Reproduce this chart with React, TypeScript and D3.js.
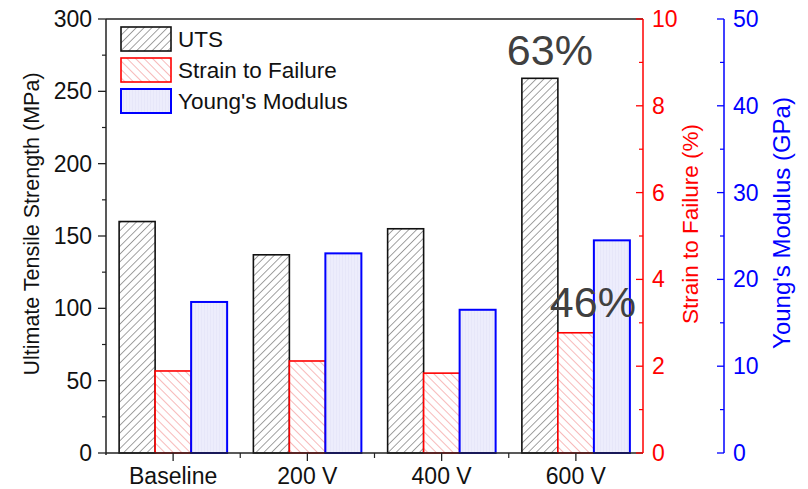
import React from "react";
import * as d3 from "d3";

const categories = ["Baseline", "200 V", "400 V", "600 V"];
const utsValues = [160, 137, 155, 259];
const strainValues = [1.89, 2.12, 1.84, 2.77];
const modulusValues = [17.4, 23.0, 16.5, 24.5];
const utsTicks = [0, 50, 100, 150, 200, 250, 300];
const strainTicks = [0, 2, 4, 6, 8, 10];
const modulusTicks = [0, 10, 20, 30, 40, 50];
const annotationTexts = ["63%", "46%"];
const annotationCategories = ["600 V", "600 V"];
const annotationValues = [268, 94];
const legendItems = ["UTS", "Strain to Failure", "Young's Modulus"];

const W = 808;
const H = 489;
const left = 106;
const right = 643;
const top = 19;
const bottom = 453;
const font = "Arial, 'Liberation Sans', sans-serif";
const annDx = [-26, 17];

export default function App() {
  const x = d3.scaleBand<string>().domain(categories).range([left, right]).paddingInner(0).paddingOuter(0);
  const yU = d3.scaleLinear().domain([0, 300]).range([bottom, top]);
  const yS = d3.scaleLinear().domain([0, 10]).range([bottom, top]);
  const yM = d3.scaleLinear().domain([0, 50]).range([bottom, top]);
  const barW = 36;
  const blueX = 724;

  const fills = ["url(#hatchUTS)", "url(#hatchStrain)", "url(#hatchMod)"];
  const strokes = ["#111", "#ff0000", "#0000ff"];

  const bars: any[] = [];
  categories.forEach((c, i) => {
    const cx = x(c)! + x.bandwidth() / 2;
    const vals = [yU(utsValues[i]), yS(strainValues[i]), yM(modulusValues[i])];
    vals.forEach((yy, k) => {
      const bx = cx - 1.5 * barW + k * barW;
      bars.push(
        <rect key={c + k} x={bx} y={yy} width={barW} height={bottom - yy}
          fill={fills[k]} stroke={strokes[k]} strokeWidth={k === 2 ? 2 : 1.6} />
      );
    });
  });

  const minorU = d3.range(25, 300, 50);
  const minorS = d3.range(1, 10, 2);
  const minorM = d3.range(5, 50, 10);

  return (
    <svg width={W} height={H} style={{ position: "absolute", left: 0, top: 0, background: "#fff" }} fontFamily={font}>
      <defs>
        <pattern id="hatchUTS" patternUnits="userSpaceOnUse" width="5.5" height="5.5" patternTransform="rotate(45)">
          <rect width="5.5" height="5.5" fill="#fff" />
          <line x1="0" y1="0" x2="0" y2="5.5" stroke="#444" strokeWidth="1" />
        </pattern>
        <pattern id="hatchStrain" patternUnits="userSpaceOnUse" width="6" height="6" patternTransform="rotate(-45)">
          <rect width="6" height="6" fill="#fff" />
          <line x1="0" y1="0" x2="0" y2="6" stroke="#f07575" strokeWidth="1" />
        </pattern>
        <pattern id="hatchMod" patternUnits="userSpaceOnUse" width="3" height="3">
          <rect width="3" height="3" fill="#ededfc" />
          <line x1="0" y1="0" x2="0" y2="3" stroke="#e0e0f6" strokeWidth="0.8" />
        </pattern>
      </defs>

      {bars}

      {/* frame top */}
      <line x1={left} x2={right} y1={top} y2={top} stroke="#222" strokeWidth={1.5} />
      {/* left axis */}
      <line x1={left} x2={left} y1={top} y2={bottom + 2} stroke="#222" strokeWidth={1.5} />
      {utsTicks.map((t) => (
        <g key={"u" + t}>
          <line x1={left - 8} x2={left} y1={yU(t)} y2={yU(t)} stroke="#222" strokeWidth={1.3} />
          <text x={92} y={yU(t)} dy="0.35em" textAnchor="end" fontSize={23} fill="#111">{t}</text>
        </g>
      ))}
      {minorU.map((t) => (
        <line key={"um" + t} x1={left - 4} x2={left} y1={yU(t)} y2={yU(t)} stroke="#222" strokeWidth={1.2} />
      ))}
      <text transform={`translate(31,${(top + bottom) / 2 - 12}) rotate(-90)`} textAnchor="middle" dy="0.35em" fontSize={21.5} fill="#111">
        Ultimate Tensile Strength (MPa)
      </text>

      {/* bottom axis */}
      <line x1={left} x2={right} y1={bottom} y2={bottom} stroke="#222" strokeWidth={1.5} />
      {categories.map((c) => {
        const cx = x(c)! + x.bandwidth() / 2;
        return (
          <g key={"c" + c}>
            <line x1={cx} x2={cx} y1={bottom} y2={bottom + 8} stroke="#222" strokeWidth={1.3} />
            <text x={cx} y={484} textAnchor="middle" fontSize={23} fill="#111">{c}</text>
          </g>
        );
      })}
      {categories.slice(1).map((c) => (
        <line key={"cm" + c} x1={x(c)!} x2={x(c)!} y1={bottom} y2={bottom + 5} stroke="#222" strokeWidth={1.2} />
      ))}

      {/* red axis */}
      <line x1={right} x2={right} y1={top} y2={bottom} stroke="#ff0000" strokeWidth={1.5} />
      {strainTicks.map((t) => (
        <g key={"s" + t}>
          <line x1={right - 7} x2={right} y1={yS(t)} y2={yS(t)} stroke="#ff0000" strokeWidth={1.3} />
          <text x={652} y={yS(t)} dy="0.35em" textAnchor="start" fontSize={23} fill="#ff0000">{t}</text>
        </g>
      ))}
      {minorS.map((t) => (
        <line key={"sm" + t} x1={right - 4} x2={right} y1={yS(t)} y2={yS(t)} stroke="#ff0000" strokeWidth={1.2} />
      ))}
      <text transform={`translate(690,224) rotate(-90)`} textAnchor="middle" dy="0.35em" fontSize={22.5} fill="#ff0000">
        Strain to Failure (%)
      </text>

      {/* blue axis */}
      <line x1={blueX} x2={blueX} y1={top} y2={bottom} stroke="#0000ff" strokeWidth={1.5} />
      {modulusTicks.map((t) => (
        <g key={"m" + t}>
          <line x1={blueX - 7} x2={blueX} y1={yM(t)} y2={yM(t)} stroke="#0000ff" strokeWidth={1.3} />
          <text x={733} y={yM(t)} dy="0.35em" textAnchor="start" fontSize={23} fill="#0000ff">{t}</text>
        </g>
      ))}
      {minorM.map((t) => (
        <line key={"mm" + t} x1={blueX - 4} x2={blueX} y1={yM(t)} y2={yM(t)} stroke="#0000ff" strokeWidth={1.2} />
      ))}
      <text transform={`translate(782,223) rotate(-90)`} textAnchor="middle" dy="0.35em" fontSize={24} fill="#0000ff">
        Young's Modulus (GPa)
      </text>

      {/* legend */}
      {legendItems.map((name, k) => {
        const ly = 27 + k * 31;
        return (
          <g key={"l" + name}>
            <rect x={121} y={ly} width={50} height={24} fill={fills[k]} stroke={strokes[k]} strokeWidth={k === 2 ? 2 : 1.6} />
            <text x={178} y={ly + 12} dy="0.35em" fontSize={22.5} fill="#111">{name}</text>
          </g>
        );
      })}

      {/* annotations */}
      {annotationTexts.map((t, k) => (
        <text key={t} x={x(annotationCategories[k])! + x.bandwidth() / 2 + annDx[k]} y={yU(annotationValues[k])}
          textAnchor="middle" fontSize={43} fill="#404040">
          {t}
        </text>
      ))}
    </svg>
  );
}
